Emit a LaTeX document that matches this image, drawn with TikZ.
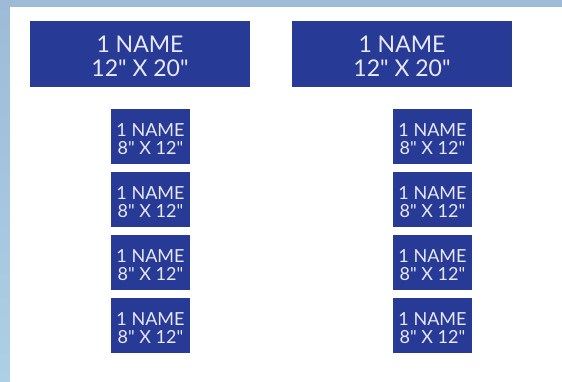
\documentclass[tikz,border=0pt]{standalone}
\usepackage{fontspec}
\setmainfont{Lato}[Ligatures=TeXOff]
\usepackage{tikz}
\usetikzlibrary{positioning}
\definecolor{signblue}{RGB}{39,58,150}
\definecolor{signtext}{RGB}{232,232,246}
\definecolor{bgtop}{RGB}{157,187,214}
\definecolor{bgbottom}{RGB}{172,208,230}
\newcommand{\twolines}[2]{\begin{tabular}[b]{@{}c@{}}#1\\#2\end{tabular}}

\begin{document}
\begin{tikzpicture}[
  x=1pt, y=-1pt,
  bigsign/.style={rectangle, fill=signblue, text=signtext, inner sep=0pt,
                  minimum width=220pt, minimum height=66pt,
                  text height=45pt, text depth=0pt,
                  font=\fontsize{23}{24}\selectfont},
  smallsign/.style={rectangle, fill=signblue, text=signtext, inner sep=0pt,
                    minimum width=79pt, minimum height=55pt,
                    text height=36pt, text depth=0pt,
                    font=\fontsize{18}{18}\selectfont},
]
\useasboundingbox (0,0) rectangle (562,381);
% backdrop
\shade[top color=bgtop, bottom color=bgbottom] (0,0) rectangle (562,381);
\fill[white] (10,7) rectangle (575,395);

% LEFT column
\node[bigsign]   (bigL)    at (140,54)      {\twolines{1 NAME}{12" X 20"}};
\node[smallsign] (smallL1) at (150.5,136.5) {\twolines{1 NAME}{8" X 12"}};
\node[smallsign] (smallL2) at (150.5,199.5) {\twolines{1 NAME}{8" X 12"}};
\node[smallsign] (smallL3) at (150.5,262.5) {\twolines{1 NAME}{8" X 12"}};
\node[smallsign] (smallL4) at (150.5,325.5) {\twolines{1 NAME}{8" X 12"}};

% RIGHT column
\node[bigsign]   (bigR)    at (402,54)      {\twolines{1 NAME}{12" X 20"}};
\node[smallsign] (smallR1) at (432.5,136.5) {\twolines{1 NAME}{8" X 12"}};
\node[smallsign] (smallR2) at (432.5,199.5) {\twolines{1 NAME}{8" X 12"}};
\node[smallsign] (smallR3) at (432.5,262.5) {\twolines{1 NAME}{8" X 12"}};
\node[smallsign] (smallR4) at (432.5,325.5) {\twolines{1 NAME}{8" X 12"}};
\end{tikzpicture}
\end{document}
